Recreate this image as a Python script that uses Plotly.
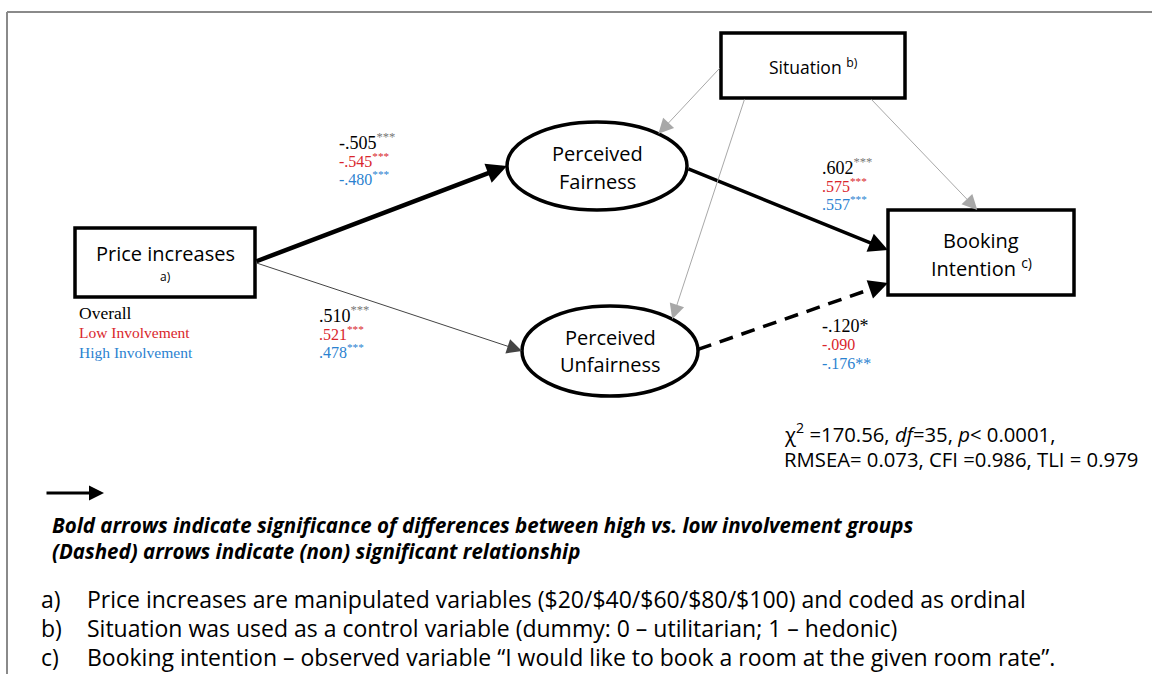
import plotly.graph_objects as go
import math

# ---------------- data ----------------
node_names = ["Price increases", "Perceived Fairness", "Perceived Unfairness", "Situation", "Booking Intention"]
node_notes = ["a)", "", "", "b)", "c)"]
groups = ["Overall", "Low Involvement", "High Involvement"]

coef_price_fair = ["-.505", "-.545", "-.480"]
sig_price_fair = ["***", "***", "***"]
coef_price_unfair = [".510", ".521", ".478"]
sig_price_unfair = ["***", "***", "***"]
coef_fair_book = [".602", ".575", ".557"]
sig_fair_book = ["***", "***", "***"]
coef_unfair_book = ["-.120", "-.090", "-.176"]
sig_unfair_book = ["*", "", "**"]

fit_chi2 = "170.56"
fit_df = "35"
fit_p = "0.0001"
fit_rmsea = "0.073"
fit_cfi = "0.986"
fit_tli = "0.979"

legend_lines = ["Bold arrows indicate significance of differences between high vs. low involvement groups",
                "(Dashed) arrows indicate (non) significant relationship"]
footnote_keys = ["a)", "b)", "c)"]
footnote_texts = ["Price increases are manipulated variables ($20/$40/$60/$80/$100) and coded as ordinal",
                  "Situation was used as a control variable (dummy: 0 – utilitarian; 1 – hedonic)",
                  "Booking intention – observed variable “I would like to book a room at the given room rate”."]

# ---------------- layout geometry ----------------
W, H = 1152, 674
geom = {
    "Price increases": ("box", (75, 228, 255, 297)),
    "Perceived Fairness": ("ell", (597, 166, 90, 44)),
    "Perceived Unfairness": ("ell", (610, 351, 88, 45)),
    "Situation": ("box", (721, 33, 905, 98)),
    "Booking Intention": ("box", (888, 210, 1074, 295)),
}


def port(name, a, b=None):
    kind, g = geom[name]
    if kind == "box":
        x0, y0, x1, y1 = g
        return x0 + a * (x1 - x0), y0 + b * (y1 - y0)
    cx, cy, rx, ry = g
    t = math.radians(a)
    return cx + rx * math.cos(t), cy - ry * math.sin(t)


RED = "#d9262c"
BLUE = "#2b82d0"
GRAYS = "#a8a8a8"
COLORS = ["black", RED, BLUE]
SANS = "Open Sans"
SERIF = "Liberation Serif"

fig = go.Figure()
fig.add_trace(go.Scatter(x=[0, W], y=[0, H], mode="markers", marker=dict(opacity=0), hoverinfo="skip", showlegend=False))

shapes = []
ann = []

# outer border
shapes.append(dict(type="line", x0=7, y0=12, x1=7, y1=H + 5, line=dict(color="#8a8a8a", width=2)))
shapes.append(dict(type="line", x0=7, y0=12, x1=W + 5, y1=12, line=dict(color="#8a8a8a", width=2)))

# nodes
for name in node_names:
    kind, g = geom[name]
    if kind == "box":
        x0, y0, x1, y1 = g
        shapes.append(dict(type="rect", x0=x0, y0=y0, x1=x1, y1=y1, line=dict(color="black", width=3.5), fillcolor="white"))
    else:
        cx, cy, rx, ry = g
        shapes.append(dict(type="circle", x0=cx - rx, y0=cy - ry, x1=cx + rx, y1=cy + ry, line=dict(color="black", width=3.5), fillcolor="white"))


def text(x, y, s, size, color="black", family=SANS, xanchor="center"):
    ann.append(dict(x=x, y=y, xref="x", yref="y", text=s, showarrow=False, xanchor=xanchor, yanchor="middle",
                    font=dict(size=size, color=color, family=family)))


# node labels
text(165, 253, node_names[0], 20)
text(165, 276, node_notes[0], 12)
text(597, 153, node_names[1].split()[0], 20)
text(597, 181, node_names[1].split()[1], 20)
text(610, 337, node_names[2].split()[0], 20)
text(610, 364, node_names[2].split()[1], 20)
text(813, 66, node_names[3] + " <sup>" + node_notes[3] + "</sup>", 17.5)
text(981, 240, node_names[4].split()[0], 20)
text(981, 267, node_names[4].split()[1] + " <sup>" + node_notes[4] + "</sup>", 20)


def arrow(p_from, p_to, color, width, size, head=2):
    ann.append(dict(x=p_to[0], y=p_to[1], ax=p_from[0], ay=p_from[1], xref="x", yref="y", axref="x", ayref="y",
                    text="", showarrow=True, arrowhead=head, arrowsize=size, arrowwidth=width, arrowcolor=color, standoff=0))


# edges
arrow(port("Price increases", 1, 0.49), port("Perceived Fairness", 180), "black", 4.5, 0.9)
arrow(port("Price increases", 1, 0.5), port("Perceived Unfairness", 180), "#444444", 1, 3)
arrow(port("Perceived Fairness", -3), port("Booking Intention", 0, 0.47), "black", 3.5, 1.1)
arrow(port("Situation", 0, 0.52), port("Perceived Fairness", 47), GRAYS, 1, 3)
arrow(port("Situation", 0.13, 1), port("Perceived Unfairness", 45), GRAYS, 1, 3)
arrow(port("Situation", 0.81, 1), port("Booking Intention", 0.48, 0), GRAYS, 1, 3)

# dashed edge
pa = port("Perceived Unfairness", 2)
pb = port("Booking Intention", 0, 0.86)
shapes.append(dict(type="line", x0=pa[0], y0=pa[1], x1=pa[0] + 0.93 * (pb[0] - pa[0]), y1=pa[1] + 0.93 * (pb[1] - pa[1]),
                   line=dict(color="black", width=3.5, dash="14px,9px")))
arrow((pa[0] + 0.9 * (pb[0] - pa[0]), pa[1] + 0.9 * (pb[1] - pa[1])), pb, "black", 3.5, 1.1)


# coefficient labels
def coef_block(x, y0, coefs, sigs):
    for i, (c, s) in enumerate(zip(coefs, sigs)):
        sc = "#777777" if i == 0 and s == "***" else COLORS[i]
        sup = "<sup><span style='color:%s'>%s</span></sup>" % (sc, s) if s == "***" else s
        text(x, y0 + i * 18.5, c + sup, 18 if i == 0 else 16, COLORS[i], SERIF, "left")


coef_block(337, 141, coef_price_fair, sig_price_fair)
coef_block(317, 314, coef_price_unfair, sig_price_unfair)
coef_block(820, 166, coef_fair_book, sig_fair_book)
coef_block(820, 326, coef_unfair_book, sig_unfair_book)

# group legend
for i, g in enumerate(groups):
    text(77, 313 + i * 19.5, g, 17.5 if i == 0 else 15.5, COLORS[i], SERIF, "left")

# fit statistics
text(782, 433, "χ<sup>2</sup> =%s, <i>df</i>=%s, <i>p</i>&lt; %s," % (fit_chi2, fit_df, fit_p), 20.3, xanchor="left")
text(782, 459, "RMSEA= %s, CFI =%s, TLI = %s" % (fit_rmsea, fit_cfi, fit_tli), 20.3, xanchor="left")

# legend arrow
arrow((45, 493), (104, 493), "black", 3, 1)
for i, s in enumerate(legend_lines):
    text(50, 525 + i * 26, "<b><i>" + s + "</i></b>", 20.5, xanchor="left")

# footnotes
for i, (k, s) in enumerate(zip(footnote_keys, footnote_texts)):
    text(39, 599 + i * 29, k, 23, xanchor="left")
    text(85, 599 + i * 29, s, 23, xanchor="left")

fig.update_layout(width=W, height=H, margin=dict(l=0, r=0, t=0, b=0),
                  paper_bgcolor="white", plot_bgcolor="white",
                  xaxis=dict(range=[0, W], visible=False, fixedrange=True),
                  yaxis=dict(range=[H, 0], visible=False, fixedrange=True),
                  shapes=shapes, annotations=ann, showlegend=False)
fig.write_html("out.html")
